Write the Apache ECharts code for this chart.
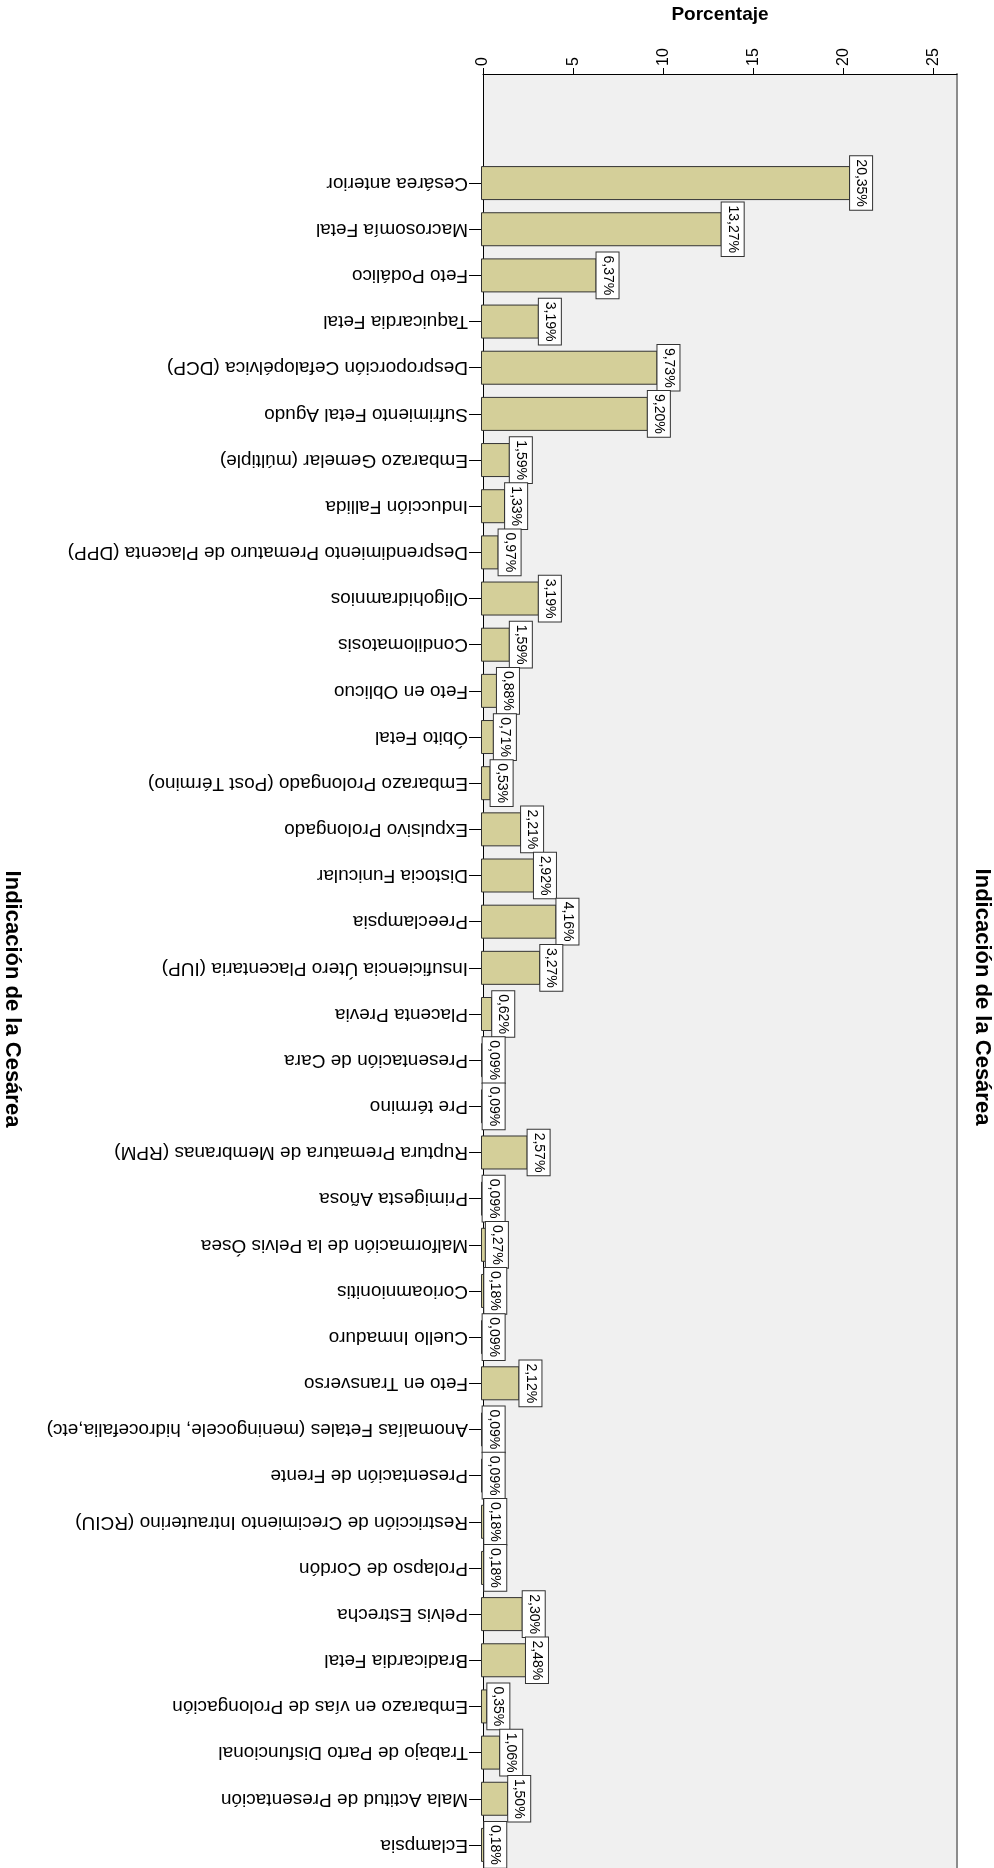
<!DOCTYPE html>
<html><head><meta charset="utf-8">
<script src="https://cdn.jsdelivr.net/npm/echarts@6/dist/echarts.min.js"></script>
<style>html,body{margin:0;padding:0;background:#fff}#c{width:994px;height:1868px}</style>
</head><body><div id="c"></div>
<script>
const categories = [
  'Cesárea anterior','Macrosomía Fetal','Feto Podálico','Taquicardia Fetal',
  'Desproporción Cefalopélvica (DCP)','Sufrimiento Fetal Agudo','Embarazo Gemelar (múltiple)',
  'Inducción Fallida','Desprendimiento Prematuro de Placenta (DPP)','Oligohidramnios',
  'Condilomatosis','Feto en Oblicuo','Óbito Fetal','Embarazo Prolongado (Post Término)',
  'Expulsivo Prolongado','Distocia Funicular','Preeclampsia','Insuficiencia Útero Placentaria (IUP)',
  'Placenta Previa','Presentación de Cara','Pre término','Ruptura Prematura de Membranas (RPM)',
  'Primigesta Añosa','Malformación de la Pelvis Ósea','Corioamnionitis','Cuello Inmaduro',
  'Feto en Transverso','Anomalías Fetales (meningocele, hidrocefalia,etc)','Presentación de Frente',
  'Restricción de Crecimiento Intrauterino (RCIU)','Prolapso de Cordón','Pelvis Estrecha',
  'Bradicardia Fetal','Embarazo en vías de Prolongación','Trabajo de Parto Disfuncional',
  'Mala Actitud de Presentación','Eclampsia'
];
const values = [
  20.35, 13.27, 6.37, 3.19, 9.73, 9.20, 1.59, 1.33, 0.97, 3.19,
  1.59, 0.88, 0.71, 0.53, 2.21, 2.92, 4.16, 3.27, 0.62, 0.09,
  0.09, 2.57, 0.09, 0.27, 0.18, 0.09, 2.12, 0.09, 0.09, 0.18,
  0.18, 2.30, 2.48, 0.35, 1.06, 1.50, 0.18
];
const xTicks = [0, 5, 10, 15, 20, 25];
const xMax = 26.3;
const axisTitle = 'Indicación de la Cesárea';
const valueTitle = 'Porcentaje';

const FONT = '"Liberation Sans", Arial, Helvetica, sans-serif';
const chart = echarts.init(document.getElementById('c'), null, {renderer: 'canvas'});
const titleStyle = {fontFamily: FONT, fontWeight: 'bold', fontSize: 22, color: '#000'};
chart.setOption({
  animation: false,
  backgroundColor: '#fff',
  grid: [
    {left: 481, right: 36, top: 68, bottom: 0, show: true, backgroundColor: '#f0f0f0', borderWidth: 0},
    {left: 481, right: 36, top: 160, bottom: 0}
  ],
  xAxis: [
    {
      gridIndex: 0, type: 'value', position: 'top', min: 0, max: xMax,
      name: valueTitle, nameLocation: 'middle', nameGap: 50,
      nameTextStyle: {fontFamily: FONT, fontWeight: 'bold', fontSize: 19, color: '#000'},
      axisLine: {show: true, onZero: false, lineStyle: {color: '#000', width: 1}},
      axisTick: {show: true, length: 6, lineStyle: {color: '#000'}, customValues: xTicks},
      axisLabel: {rotate: -90, fontSize: 16, color: '#000', margin: 8, fontFamily: FONT, customValues: xTicks},
      splitLine: {show: false}
    },
    {
      gridIndex: 1, type: 'value', position: 'bottom', min: 0, max: xMax, show: false,
      axisLine: {show: false, onZero: false}, axisTick: {show: false}, axisLabel: {show: false}, splitLine: {show: false}
    }
  ],
  yAxis: [
    {
      gridIndex: 0, type: 'value', position: 'left', min: 0, max: 1,
      axisLine: {show: true, onZero: false, lineStyle: {color: '#000', width: 1}},
      axisTick: {show: false}, axisLabel: {show: false}, splitLine: {show: false},
      name: axisTitle, nameLocation: 'middle', nameRotate: -90, nameGap: 460,
      nameTextStyle: Object.assign({padding: [0, 0, 0, 56]}, titleStyle)
    },
    {
      gridIndex: 0, type: 'value', position: 'right', min: 0, max: 1,
      axisLine: {show: true, onZero: false, lineStyle: {color: '#8c8c8c', width: 2}},
      axisTick: {show: false}, axisLabel: {show: false}, splitLine: {show: false},
      name: axisTitle, nameLocation: 'middle', nameRotate: -90, nameGap: 14,
      nameTextStyle: Object.assign({padding: [0, 0, 0, 52]}, titleStyle)
    },
    {
      gridIndex: 1, type: 'category', inverse: true, data: categories,
      axisLine: {show: false, onZero: false},
      axisTick: {show: true, alignWithLabel: true, length: 12, lineStyle: {color: '#000'}},
      axisLabel: {rotate: 180, fontSize: 19, color: '#000', margin: 13, fontFamily: FONT, interval: 0}
    }
  ],
  series: [{
    type: 'bar', xAxisIndex: 1, yAxisIndex: 2, data: values, barWidth: 34,
    itemStyle: {color: '#d4cf99', borderColor: '#333', borderWidth: 1},
    label: {
      show: true, position: 'right', distance: 0, rotate: -90,
      align: 'center', verticalAlign: 'bottom',
      formatter: p => p.value.toFixed(2).replace('.', ',') + '%',
      fontFamily: FONT, fontSize: 14, color: '#000',
      backgroundColor: '#fff', borderColor: '#333', borderWidth: 1, padding: [4, 3]
    }
  }]
});
</script></body></html>
